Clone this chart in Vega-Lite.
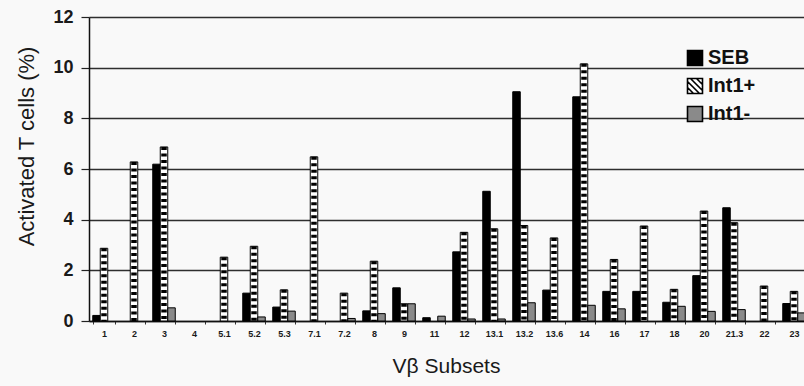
{
  "$schema": "https://vega.github.io/schema/vega-lite/v6.json",
  "width": 715,
  "height": 304,
  "autosize": {"type": "none"},
  "padding": {"left": 89, "top": 17, "right": 0, "bottom": 65},
  "background": "#f9f9f9",
  "config": {
    "view": {"stroke": null},
    "font": "Liberation Sans",
    "axis": {"labelColor": "#1a1a1a", "titleColor": "#1a1a1a", "titleFontWeight": "normal"}
  },
  "data": {"values": [
    {"v": "1", "s": "SEB", "p": 0.22}, {"v": "1", "s": "Int1+", "p": 2.87}, {"v": "1", "s": "Int1-", "p": 0},
    {"v": "2", "s": "SEB", "p": 0}, {"v": "2", "s": "Int1+", "p": 6.28}, {"v": "2", "s": "Int1-", "p": 0},
    {"v": "3", "s": "SEB", "p": 6.19}, {"v": "3", "s": "Int1+", "p": 6.87}, {"v": "3", "s": "Int1-", "p": 0.52},
    {"v": "4", "s": "SEB", "p": 0}, {"v": "4", "s": "Int1+", "p": 0}, {"v": "4", "s": "Int1-", "p": 0},
    {"v": "5.1", "s": "SEB", "p": 0}, {"v": "5.1", "s": "Int1+", "p": 2.52}, {"v": "5.1", "s": "Int1-", "p": 0},
    {"v": "5.2", "s": "SEB", "p": 1.1}, {"v": "5.2", "s": "Int1+", "p": 2.95}, {"v": "5.2", "s": "Int1-", "p": 0.16},
    {"v": "5.3", "s": "SEB", "p": 0.55}, {"v": "5.3", "s": "Int1+", "p": 1.23}, {"v": "5.3", "s": "Int1-", "p": 0.39},
    {"v": "7.1", "s": "SEB", "p": 0}, {"v": "7.1", "s": "Int1+", "p": 6.48}, {"v": "7.1", "s": "Int1-", "p": 0},
    {"v": "7.2", "s": "SEB", "p": 0}, {"v": "7.2", "s": "Int1+", "p": 1.1}, {"v": "7.2", "s": "Int1-", "p": 0.1},
    {"v": "8", "s": "SEB", "p": 0.4}, {"v": "8", "s": "Int1+", "p": 2.36}, {"v": "8", "s": "Int1-", "p": 0.29},
    {"v": "9", "s": "SEB", "p": 1.31}, {"v": "9", "s": "Int1+", "p": 0.68}, {"v": "9", "s": "Int1-", "p": 0.68},
    {"v": "11", "s": "SEB", "p": 0.13}, {"v": "11", "s": "Int1+", "p": 0}, {"v": "11", "s": "Int1-", "p": 0.19},
    {"v": "12", "s": "SEB", "p": 2.73}, {"v": "12", "s": "Int1+", "p": 3.5}, {"v": "12", "s": "Int1-", "p": 0.08},
    {"v": "13.1", "s": "SEB", "p": 5.12}, {"v": "13.1", "s": "Int1+", "p": 3.64}, {"v": "13.1", "s": "Int1-", "p": 0.08},
    {"v": "13.2", "s": "SEB", "p": 9.05}, {"v": "13.2", "s": "Int1+", "p": 3.77}, {"v": "13.2", "s": "Int1-", "p": 0.72},
    {"v": "13.6", "s": "SEB", "p": 1.22}, {"v": "13.6", "s": "Int1+", "p": 3.28}, {"v": "13.6", "s": "Int1-", "p": 0},
    {"v": "14", "s": "SEB", "p": 8.85}, {"v": "14", "s": "Int1+", "p": 10.15}, {"v": "14", "s": "Int1-", "p": 0.62},
    {"v": "16", "s": "SEB", "p": 1.17}, {"v": "16", "s": "Int1+", "p": 2.43}, {"v": "16", "s": "Int1-", "p": 0.48},
    {"v": "17", "s": "SEB", "p": 1.17}, {"v": "17", "s": "Int1+", "p": 3.75}, {"v": "17", "s": "Int1-", "p": 0},
    {"v": "18", "s": "SEB", "p": 0.74}, {"v": "18", "s": "Int1+", "p": 1.25}, {"v": "18", "s": "Int1-", "p": 0.58},
    {"v": "20", "s": "SEB", "p": 1.79}, {"v": "20", "s": "Int1+", "p": 4.34}, {"v": "20", "s": "Int1-", "p": 0.38},
    {"v": "21.3", "s": "SEB", "p": 4.47}, {"v": "21.3", "s": "Int1+", "p": 3.88}, {"v": "21.3", "s": "Int1-", "p": 0.45},
    {"v": "22", "s": "SEB", "p": 0}, {"v": "22", "s": "Int1+", "p": 1.38}, {"v": "22", "s": "Int1-", "p": 0},
    {"v": "23", "s": "SEB", "p": 0.69}, {"v": "23", "s": "Int1+", "p": 1.17}, {"v": "23", "s": "Int1-", "p": 0.32}
  ]},
  "encoding": {
    "x": {
      "field": "v", "type": "nominal", "sort": null,
      "scale": {
        "domain": ["1", "2", "3", "4", "5.1", "5.2", "5.3", "7.1", "7.2", "8", "9", "11", "12", "13.1", "13.2", "13.6", "14", "16", "17", "18", "20", "21.3", "22", "23"],
        "range": [0, 720], "paddingInner": 0.25, "paddingOuter": 0.125
      },
      "axis": {
        "title": "Vβ Subsets", "titleFontSize": 21, "titleX": 357, "titleY": 51,
        "titleBaseline": "alphabetic", "titleAlign": "center",
        "labelAngle": 0, "labelFont": "Liberation Sans", "labelFontWeight": "bold", "labelFontSize": 9,
        "labelPadding": 5, "tickBand": "extent", "tickSize": 3, "tickColor": "#333",
        "domainColor": "#111", "domainWidth": 1.5, "grid": false
      }
    },
    "xOffset": {"field": "s", "type": "nominal", "scale": {"domain": ["SEB", "Int1+", "Int1-"], "paddingInner": 0, "paddingOuter": 0}},
    "y": {
      "field": "p", "type": "quantitative",
      "scale": {"domain": [0, 12], "nice": false},
      "axis": {
        "title": "Activated T cells (%)", "titleFontSize": 22, "titleAngle": -90,
        "titleX": -63, "titleY": 129, "titleAlign": "center", "titleBaseline": "middle",
        "values": [0, 2, 4, 6, 8, 10, 12], "labelFontWeight": "bold", "labelFontSize": 18,
        "labelPadding": 8, "tickSize": 8, "tickColor": "#222", "tickWidth": 1.2,
        "domainColor": "#111", "domainWidth": 1.5,
        "grid": true, "gridColor": "#2e2e2e", "gridWidth": 1.6, "gridOpacity": 1
      }
    }
  },
  "layer": [
    {
      "transform": [{"filter": "datum.p > 0"}],
      "mark": {"type": "bar", "stroke": "#000", "strokeWidth": 1},
      "encoding": {
        "color": {
          "field": "s", "type": "nominal",
          "scale": {"domain": ["SEB", "Int1+", "Int1-"], "range": ["#000000", "#ffffff", "#8a8a8a"]},
          "legend": {
            "title": null, "orient": "none", "legendX": 596, "legendY": 31,
            "symbolType": {"expr": "datum.value === 'Int1+' ? 'M-1,-1H1V1H-1Z M0.2,-1L1,-0.2 M-0.6,-1L1,0.6 M-1,-0.6L0.6,1 M-1,0.2L-0.2,1' : 'square'"},
            "symbolSize": 225, "symbolStrokeColor": "#000", "symbolStrokeWidth": 1.6,
            "symbolOpacity": 1,
            "labelFont": "Liberation Sans", "labelFontWeight": "bold", "labelFontSize": 20, "labelColor": "#111",
            "labelOffset": 3, "rowPadding": 6
          }
        }
      }
    },
    {
      "transform": [{"filter": "datum.s === 'Int1+' && datum.p > 0"}],
      "mark": {"type": "rule", "color": "#000", "strokeWidth": 5.5, "strokeDash": [3, 3.5], "strokeCap": "butt"},
      "encoding": {
        "y2": {"datum": 0}
      }
    }
  ]
}
